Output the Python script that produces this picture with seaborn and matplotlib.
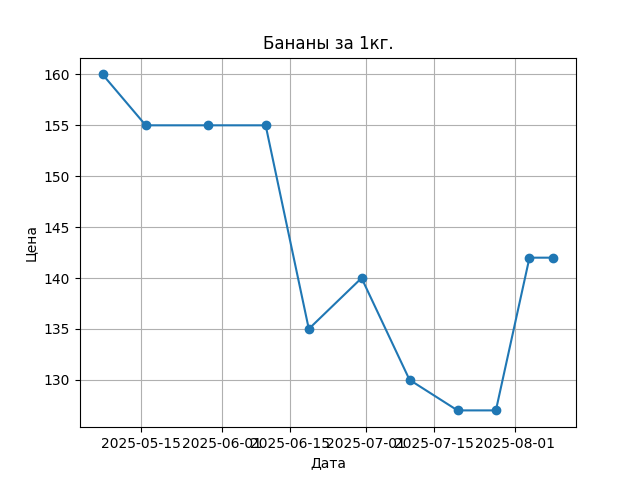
import matplotlib
matplotlib.use("Agg")
import matplotlib.pyplot as plt
import seaborn as sns
import pandas as pd

DATES = [
    "2025-05-07", "2025-05-16", "2025-05-29", "2025-06-10", "2025-06-19",
    "2025-06-30", "2025-07-10", "2025-07-20", "2025-07-28", "2025-08-04",
    "2025-08-09",
]
PRICES = [160, 155, 155, 155, 135, 140, 130, 127, 127, 142, 142]

TITLE = "Бананы за 1кг."
X_LABEL = "Дата"
Y_LABEL = "Цена"


def main():
    data = pd.DataFrame({"date": pd.to_datetime(DATES), "price": PRICES})

    fig, ax = plt.subplots(figsize=(6.4, 4.8), dpi=100)
    sns.lineplot(
        data=data,
        x="date",
        y="price",
        marker="o",
        markersize=6,
        markeredgecolor="#1f77b4",
        markeredgewidth=1,
        color="#1f77b4",
        linewidth=1.5,
        ax=ax,
    )
    ax.grid(True)
    ax.set_title(TITLE)
    ax.set_xlabel(X_LABEL)
    ax.set_ylabel(Y_LABEL)

    fig.savefig("out.png")
    plt.close(fig)


if __name__ == "__main__":
    main()
